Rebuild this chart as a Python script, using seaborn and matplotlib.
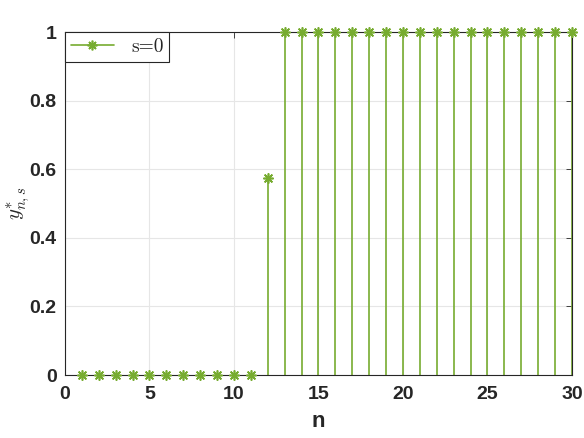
import numpy as np
import pandas as pd
import seaborn as sns
import matplotlib.pyplot as plt
from matplotlib.lines import Line2D

# data
n = list(range(1, 31))
y_star = [0.0] * 11 + [0.575] + [1.0] * 18
label = "s=0"

df = pd.DataFrame({"n": n, "y": y_star})
green = "#77AC30"

sns.set_style("white")
plt.rcParams["font.family"] = ["Liberation Sans", "DejaVu Sans"]
plt.rcParams["mathtext.fontset"] = "cm"

fig = plt.figure(figsize=(5.84, 4.38), dpi=100)
ax = fig.add_axes([0.1113, 0.1438, 0.868, 0.783])

# stems
ax.vlines(df["n"], 0, df["y"], color=green, linewidth=1.2, zorder=2)
# markers
sns.scatterplot(data=df, x="n", y="y", ax=ax, color=green, marker=(8, 2, 0),
                s=45, linewidth=1.2, edgecolor=green, zorder=3, clip_on=False,
                legend=False)

ax.set_xlim(0, 30)
ax.set_ylim(0, 1)
ax.set_xticks([0, 5, 10, 15, 20, 25, 30])
ax.set_yticks([0, 0.2, 0.4, 0.6, 0.8, 1])
ax.set_yticklabels(["0", "0.2", "0.4", "0.6", "0.8", "1"])
ax.grid(True, color="#e6e6e6", linewidth=0.8)
ax.set_axisbelow(True)
ax.tick_params(direction="in", top=True, right=True, length=4, width=0.6,
               colors="#262626", labelsize=14)
ax.tick_params(axis="x", pad=8)
ax.tick_params(axis="y", pad=6)
for lab in ax.get_xticklabels() + ax.get_yticklabels():
    lab.set_fontweight("bold")
for sp in ax.spines.values():
    sp.set_color("#262626")
    sp.set_linewidth(0.8)

ax.set_xlabel("n", fontsize=16, fontweight="bold", labelpad=6)
ax.set_ylabel(r"$y^{*}_{n,s}$", fontsize=15)
ax.yaxis.set_label_coords(-0.066, 0.5)

handle = Line2D([], [], color=green, linewidth=1.2, marker=(8, 2, 0),
                markersize=7, markeredgewidth=1.2)
leg = ax.legend([handle], [label], loc="upper left",
                prop={"family": "cmr10", "size": 14},
                fancybox=False, edgecolor="#262626", framealpha=1,
                borderaxespad=0, handlelength=2.2, handletextpad=0.9,
                borderpad=0.3)
leg.get_frame().set_linewidth(0.8)

plt.savefig("out.png", dpi=100)
